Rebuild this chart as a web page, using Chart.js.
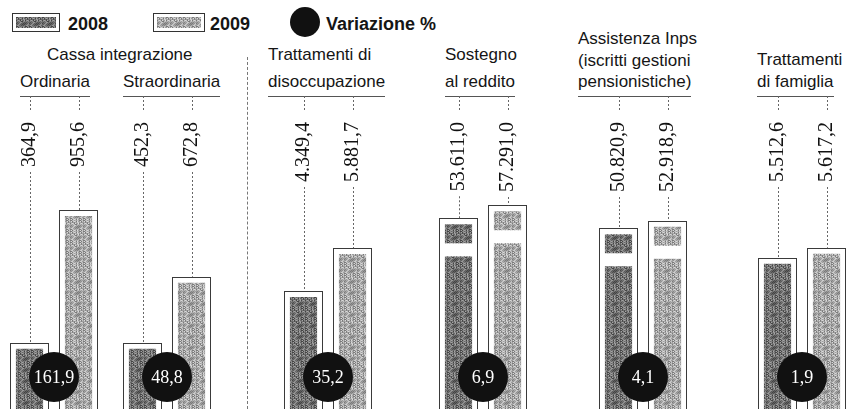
<!DOCTYPE html>
<html><head><meta charset="utf-8">
<script src="https://cdn.jsdelivr.net/npm/chart.js@4.4.1/dist/chart.umd.min.js"></script>
<style>
html,body{margin:0;padding:0;background:#fff}
#wrap{position:relative;width:849px;height:409px;overflow:hidden;background:#fff;font-family:"Liberation Sans",Arial,sans-serif;color:#151515}
.hd{position:absolute;font-size:17px;line-height:17px;white-space:nowrap}
.rule{border-bottom:1px solid #555}
.lg{position:absolute;font-weight:bold;font-size:18px;line-height:18px;white-space:nowrap}
.sw{position:absolute;top:13px;height:19px;border:1px solid #333;box-sizing:border-box;padding:3px;background:#fff}
.sw div{width:100%;height:100%}
canvas{position:absolute;top:0}
</style></head><body><div id="wrap"></div>
<script>
// data
const years=['2008','2009'];
const panels=['Ordinaria','Straordinaria','Disoccupazione','Sostegno al reddito','Assistenza Inps','Famiglia'];
const values2008=[364.9,452.3,4349.4,53611.0,50820.9,5512.6];
const values2009=[955.6,672.8,5881.7,57291.0,52918.9,5617.2];
const changePct=[161.9,48.8,35.2,6.9,4.1,1.9];
// every panel is drawn on its own scale in the original
const axisMin=[70,230,150,0,0,3930];
const axisMax=[1890,1600,14700,115000,115000,8210];

// layout
const panelLeft=[5,118,279,434,594,753];
const broken=[false,false,false,true,true,false];
const headers=[
  {t:'Cassa integrazione',x:47,b:60},
  {t:'Ordinaria',x:20,b:87,rule:1},
  {t:'Straordinaria',x:123,b:87,rule:1},
  {t:'Trattamenti di',x:268,b:60},
  {t:'disoccupazione',x:268,b:87,rule:1},
  {t:'Sostegno',x:445,b:60},
  {t:'al reddito',x:445,b:87,rule:1},
  {t:'Assistenza Inps',x:578,b:44},
  {t:'(iscritti gestioni',x:578,b:66},
  {t:'pensionistiche)',x:578,b:87,rule:1},
  {t:'Trattamenti',x:757,b:65},
  {t:'di famiglia',x:757,b:87,rule:1}
];
const LABEL_TOP=122, RULE_Y=96, CIRCLE_Y=377;

// print-like stipple from a fixed hash (no randomness, same every run)
function stipple(base){
  const W=13,H=11;
  const c=document.createElement('canvas'); c.width=W; c.height=H;
  const g=c.getContext('2d'), im=g.createImageData(W,H);
  for(let y=0;y<H;y++) for(let x=0;x<W;x++){
    const h=((x*x*7+y*y*3+x*y*5+x*11)%9)-4;
    const v=Math.max(0,Math.min(255,base+h*12)), o=(y*W+x)*4;
    im.data[o]=im.data[o+1]=im.data[o+2]=v; im.data[o+3]=255;
  }
  g.putImageData(im,0,0); return c;
}
const tex08=stipple(0x74), tex09=stipple(0xaa);

const wrap=document.getElementById('wrap');
function el(tag,cls,css,txt){const e=document.createElement(tag);if(cls)e.className=cls;Object.assign(e.style,css||{});if(txt!=null)e.textContent=txt;wrap.appendChild(e);return e;}

// legend
const s1=el('div','sw',{left:'12px',width:'48px'}); s1.appendChild(document.createElement('div')).style.background='url('+tex08.toDataURL()+')';
el('div','lg',{left:'68px',top:'15px'},years[0]);
const s2=el('div','sw',{left:'153px',width:'52px'}); s2.appendChild(document.createElement('div')).style.background='url('+tex09.toDataURL()+')';
el('div','lg',{left:'210px',top:'15px'},years[1]);
el('div',null,{position:'absolute',left:'290px',top:'7px',width:'30px',height:'30px',borderRadius:'50%',background:'#111'});
el('div','lg',{left:'326px',top:'15px'},'Variazione %');

// headers
headers.forEach(h=>{
  const top=h.b-14.4;
  const d=el('div','hd'+(h.rule?' rule':''),{left:h.x+'px',top:top+'px'},h.t);
  if(h.rule) d.style.height=(RULE_Y-top)+'px';
});
// dotted separator after cassa integrazione
el('div',null,{position:'absolute',left:'247px',top:'57px',height:'352px',borderLeft:'1px dashed #777'});

function fmt(v){
  const p=v.toFixed(1).split('.');
  return p[0].replace(/\B(?=(\d{3})+(?!\d))/g,'.')+','+p[1];
}
function seg(ctx,x1,y1,x2,y2){ctx.beginPath();ctx.moveTo(x1,y1);ctx.lineTo(x2,y2);ctx.stroke();}

const decor={id:'decor',afterDatasetsDraw(chart){
  const ctx=chart.ctx, i=chart.options.plugins.decor.index;
  const bars=chart.getDatasetMeta(0).data;
  ctx.save();
  bars.forEach((b,k)=>{
    const w=b.width, x0=b.x-w/2, top=b.y;
    if(broken[i]){ ctx.fillStyle='#fff'; ctx.fillRect(x0,top+25,w,13); }
    ctx.setLineDash([]); ctx.strokeStyle='#3a3a3a'; ctx.lineWidth=1;
    ctx.strokeRect(Math.round(x0)+0.5,Math.round(top)+0.5,Math.round(w)-1,chart.chartArea.bottom-top+5);
    const s=fmt(chart.data.datasets[0].data[k]);
    ctx.font='20px "Liberation Serif","Times New Roman",serif';
    const len=ctx.measureText(s).width;
    ctx.save(); ctx.translate(b.x,LABEL_TOP); ctx.rotate(-Math.PI/2);
    ctx.textAlign='right'; ctx.textBaseline='middle'; ctx.fillStyle='#111';
    ctx.fillText(s,0,0); ctx.restore();
    ctx.setLineDash([2,2]); ctx.strokeStyle='#666';
    seg(ctx,Math.round(b.x)+0.5,RULE_Y,Math.round(b.x)+0.5,LABEL_TOP-12);
    seg(ctx,Math.round(b.x)+0.5,LABEL_TOP+len+5,Math.round(b.x)+0.5,top);
  });
  const cx=(bars[0].x+bars[1].x)/2;
  ctx.setLineDash([]);
  ctx.fillStyle='#111'; ctx.beginPath(); ctx.arc(cx,CIRCLE_Y,25,0,Math.PI*2); ctx.fill();
  ctx.fillStyle='#fff'; ctx.font='18px "Liberation Serif","Times New Roman",serif';
  ctx.textAlign='center'; ctx.textBaseline='middle';
  ctx.fillText(fmt(changePct[i]),cx,CIRCLE_Y+1);
  ctx.restore();
}};

panels.forEach((name,i)=>{
  const cv=el('canvas',null,{left:panelLeft[i]+'px'});
  cv.width=98; cv.height=409;
  const ctx=cv.getContext('2d');
  new Chart(cv,{type:'bar',
    data:{labels:years,datasets:[{label:name,data:[values2008[i],values2009[i]],
      backgroundColor:[ctx.createPattern(tex08,'repeat'),ctx.createPattern(tex09,'repeat')],
      borderColor:'#fff',borderWidth:6,
      barPercentage:0.8,categoryPercentage:1}]},
    options:{responsive:false,animation:false,devicePixelRatio:1,
      layout:{padding:0},
      plugins:{legend:{display:false},tooltip:{enabled:false},decor:{index:i}},
      scales:{x:{display:false},y:{display:false,min:axisMin[i],max:axisMax[i]}}},
    plugins:[decor]});
});
</script></body></html>
